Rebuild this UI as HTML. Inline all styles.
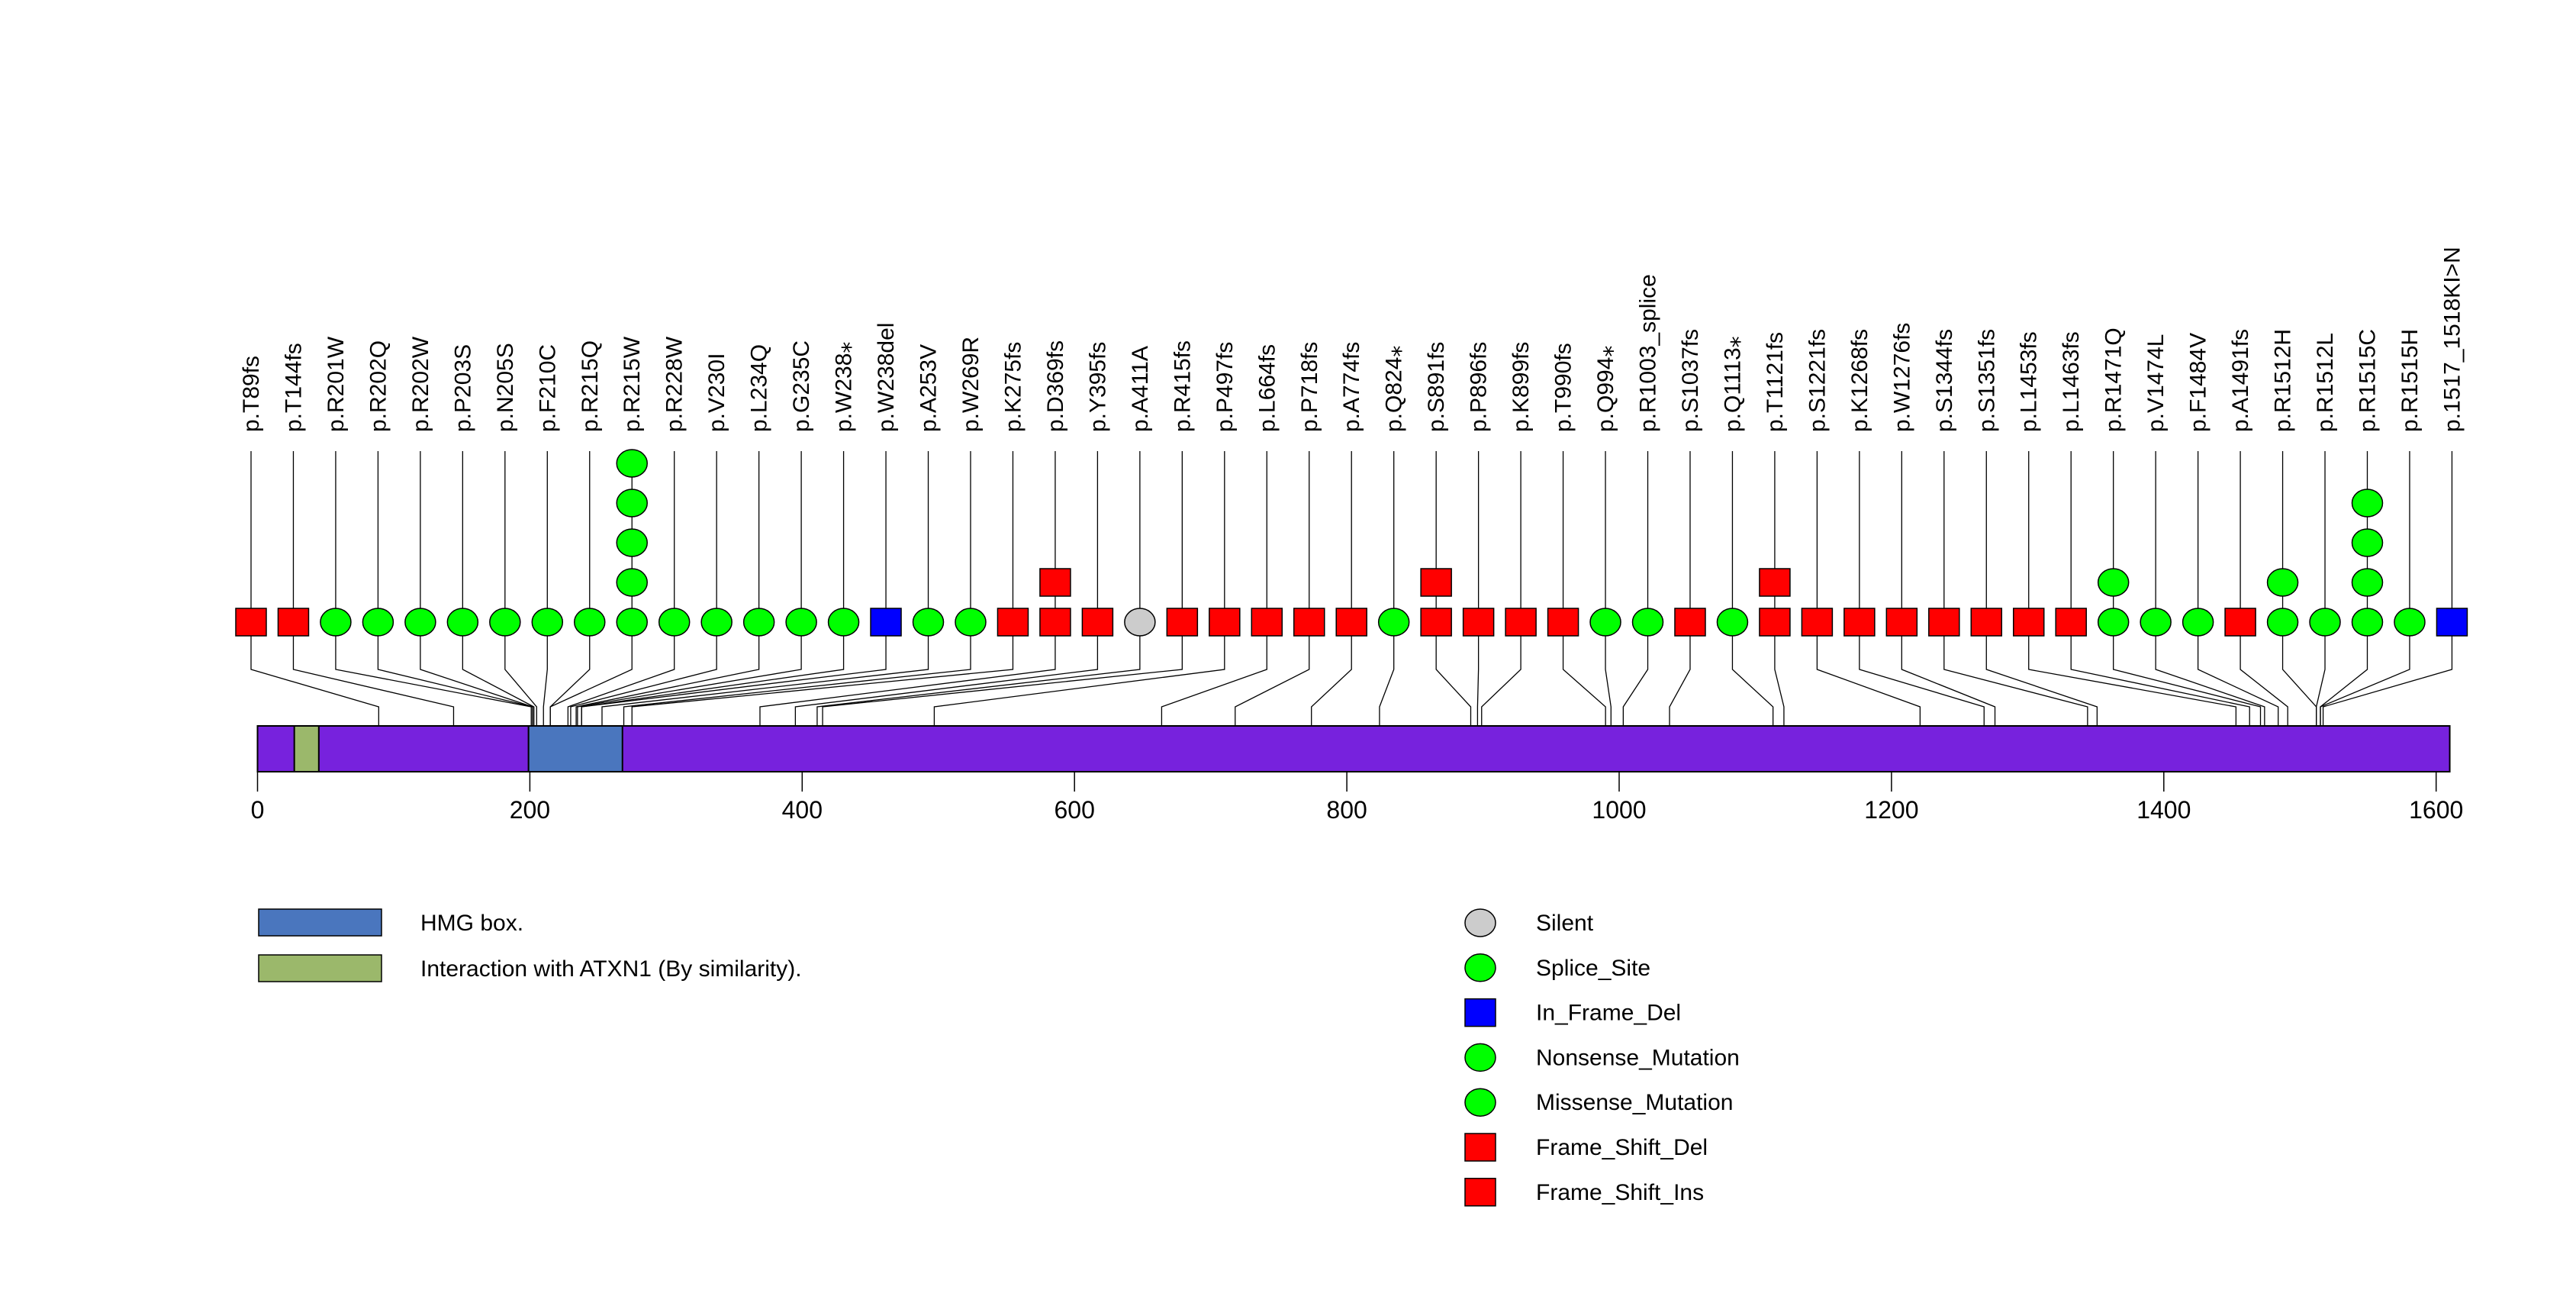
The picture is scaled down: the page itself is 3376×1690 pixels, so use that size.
<!DOCTYPE html>
<html><head><meta charset="utf-8"><style>
html,body{margin:0;padding:0;background:#fff;}
svg{display:block;font-family:"Liberation Sans","DejaVu Sans",sans-serif;}
</style></head><body>
<svg id="chart" width="3376" height="1690" viewBox="0 0 3376 1690" xmlns="http://www.w3.org/2000/svg">
<g id="connectors"></g>
<g id="protein"></g>
<g id="marks"></g>
<g id="labels"></g>
<g id="axis"></g>
<g id="legend">
  <rect x="339" y="1191" width="161" height="35" fill="#4a76be" stroke="#000" stroke-width="1.5"/>
  <text x="551" y="1219" font-size="30">HMG box.</text>
  <rect x="339" y="1251" width="161" height="35" fill="#9bb86b" stroke="#000" stroke-width="1.5"/>
  <text x="551" y="1279" font-size="30">Interaction with ATXN1 (By similarity).</text>
</g>
</svg>
<script>
const positions = [89,144,201,202,202,203,205,210,215,215,228,230,234,235,238,238,253,269,275,369,395,411,415,497,664,718,774,824,891,896,899,990,994,1003,1037,1113,1121,1221,1268,1276,1344,1351,1453,1463,1471,1474,1484,1491,1512,1512,1515,1515,1517];
const names = ["p.T89fs","p.T144fs","p.R201W","p.R202Q","p.R202W","p.P203S","p.N205S","p.F210C","p.R215Q","p.R215W","p.R228W","p.V230I","p.L234Q","p.G235C","p.W238\u204E","p.W238del","p.A253V","p.W269R","p.K275fs","p.D369fs","p.Y395fs","p.A411A","p.R415fs","p.P497fs","p.L664fs","p.P718fs","p.A774fs","p.Q824\u204E","p.S891fs","p.P896fs","p.K899fs","p.T990fs","p.Q994\u204E","p.R1003_splice","p.S1037fs","p.Q1113\u204E","p.T1121fs","p.S1221fs","p.K1268fs","p.W1276fs","p.S1344fs","p.S1351fs","p.L1453fs","p.L1463fs","p.R1471Q","p.V1474L","p.F1484V","p.A1491fs","p.R1512H","p.R1512L","p.R1515C","p.R1515H","p.1517_1518KI>N"];
const types = ["F","F","M","M","M","M","M","M","M","M","M","M","M","M","M","D","M","M","F","F","F","S","F","F","F","F","F","M","F","F","F","F","M","M","F","M","F","F","F","F","F","F","F","F","M","M","M","F","M","M","M","M","D"];
const counts = [1,1,1,1,1,1,1,1,1,5,1,1,1,1,1,1,1,1,1,2,1,1,1,1,1,1,1,1,2,1,1,1,1,1,1,1,2,1,1,1,1,1,1,1,2,1,1,1,2,1,4,1,1];
const domains = [[199,268,"#4a76be","hmg-box-domain"],[27,45,"#9bb86b","atxn1-interaction-domain"]];
const proteinLength = 1610;
const ticks = [0,200,400,600,800,1000,1200,1400,1600];
const legendNames = ["Silent","Splice_Site","In_Frame_Del","Nonsense_Mutation","Missense_Mutation","Frame_Shift_Del","Frame_Shift_Ins"];
const legendTypes = ["S","M","D","M","M","F","F"];

const NS="http://www.w3.org/2000/svg";
const X=v=>337.5+1.7845*v;
const slotX=i=>329+55.47*i;
const rowY=815, stackStep=52, kinkHi=877, kinkLo=926, barTop=951, barBot=1011, lineTop=591;
const colors={F:"#ff0000",M:"#00ff00",D:"#0000ff",S:"#cccccc"};
function mk(tag,attrs,parent){const e=document.createElementNS(NS,tag);for(const k in attrs)e.setAttribute(k,attrs[k]);parent.appendChild(e);return e;}
const gC=document.getElementById('connectors'),gP=document.getElementById('protein'),gM=document.getElementById('marks'),gL=document.getElementById('labels'),gA=document.getElementById('axis'),gLeg=document.getElementById('legend');

let bar=mk('rect',{x:X(0),y:barTop,width:X(proteinLength)-X(0),height:barBot-barTop,fill:"#7722dd",stroke:"#000","stroke-width":2},gP);


domains.forEach(d=>{
  const r=mk('rect',{x:X(d[0]),y:barTop,width:X(d[1])-X(d[0]),height:barBot-barTop,fill:d[2],stroke:"#000","stroke-width":2},gP);
  
  
});

function marker(type,cx,cy,parent,name){
  let e;
  if(type==="F"||type==="D") e=mk('rect',{x:cx-20,y:cy-18,width:40,height:36,fill:colors[type],stroke:"#000","stroke-width":1.5},parent);
  else e=mk('ellipse',{cx:cx,cy:cy,rx:20,ry:18,fill:colors[type],stroke:"#000","stroke-width":1.5},parent);
  
  
}

positions.forEach((v,i)=>{
  const sx=slotX(i), px=X(v);
  const p=mk('polyline',{points:`${sx},${lineTop} ${sx},${kinkHi} ${px},${kinkLo} ${px},${barBot}`,fill:"none",stroke:"#000","stroke-width":1.3},gC);
  
  
  for(let k=counts[i]-1;k>=0;k--) marker(types[i],sx,rowY-k*stackStep,gM,'mutation-marker');
  const t=mk('text',{x:sx+10,y:566,"font-size":30,"text-anchor":"start",transform:`rotate(-90 ${sx+10} 566)`},gL);
  t.textContent=names[i];
  
  
});

ticks.forEach(v=>{
  const l=mk('line',{x1:X(v),x2:X(v),y1:barBot,y2:1037,stroke:"#000","stroke-width":1.5},gA);
  
  
  const t=mk('text',{x:X(v),y:1072,"font-size":32,"text-anchor":"middle"},gA);
  t.textContent=v;
  
  
});

legendNames.forEach((n,i)=>{
  const y=1209+i*58.8;
  marker(legendTypes[i],1940,y,gLeg,'legend-marker');
  const t=mk('text',{x:2013,y:y+10,"font-size":30},gLeg);
  t.textContent=n;
  
  
});
</script>
</body></html>
